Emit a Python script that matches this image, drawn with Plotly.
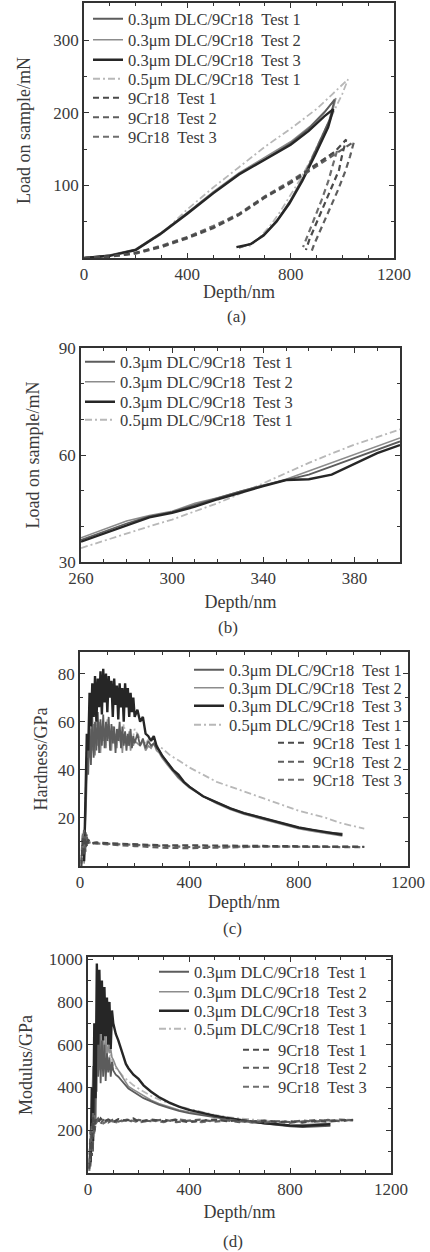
import plotly.graph_objects as go

# ---------------- DATA ----------------
# Panel (a): load-depth curves (loading + unloading)
a_dlc1_depth = [0, 50, 100, 200, 300, 400, 500, 600, 700, 800, 870, 930, 970, 950, 900, 850, 800, 750, 700, 650, 600]
a_dlc1_load = [0, 1.5, 4, 12, 35, 62, 90, 116, 136, 158, 178, 200, 218, 190, 150, 112, 80, 53, 33, 20, 14]
a_dlc2_depth = [0, 50, 100, 200, 300, 400, 500, 600, 700, 800, 875, 935, 975, 955, 905, 855, 805, 755, 705, 655, 610]
a_dlc2_load = [0, 1.2, 3.5, 11, 34, 63, 91, 117, 138, 160, 181, 203, 220, 192, 152, 114, 82, 55, 35, 21, 15]
a_dlc3_depth = [0, 50, 100, 200, 300, 400, 500, 600, 700, 800, 870, 930, 965, 945, 895, 845, 795, 745, 695, 645, 590]
a_dlc3_load = [0, 1, 3, 11, 34, 61, 89, 115, 135, 156, 175, 195, 205, 180, 142, 106, 75, 50, 31, 19, 15]
a_dlc05_depth = [0, 100, 200, 300, 400, 500, 600, 700, 800, 900, 960, 1022, 1000, 960, 920, 880, 840, 800, 760, 720, 680, 640]
a_dlc05_load = [0, 3, 11, 33, 67, 97, 125, 153, 178, 205, 225, 246, 226, 196, 166, 137, 110, 86, 64, 44, 28, 16]
a_cr1_depth = [0, 100, 200, 300, 400, 500, 600, 700, 800, 900, 970, 1015, 1000, 987, 968, 949, 930, 910, 890, 872, 859]
a_cr1_load = [0, 2, 7, 16, 28, 42, 60, 84, 104, 128, 146, 163, 143, 121, 105, 89, 73, 57, 40, 25, 11]
a_cr2_depth = [0, 100, 200, 300, 400, 500, 600, 700, 800, 900, 980, 1045, 1030, 1012, 985, 960, 935, 910, 890, 882]
a_cr2_load = [0, 2, 6, 15, 27, 41, 59, 83, 103, 126, 144, 160, 140, 120, 95, 75, 55, 35, 18, 10]
a_cr3_depth = [0, 100, 200, 300, 400, 500, 600, 700, 800, 900, 945, 980, 965, 945, 920, 900, 880, 860, 848]
a_cr3_load = [0, 2, 7, 17, 29, 44, 61, 85, 106, 129, 140, 148, 130, 105, 80, 62, 44, 27, 15]

# Panel (b): zoom of loading segment
b_depth = [260, 270, 280, 290, 300, 310, 320, 330, 340, 350, 360, 370, 380, 390, 400]
b_dlc1 = [36.2, 38.5, 40.8, 42.8, 44.0, 46.0, 48.0, 49.8, 51.5, 53.0, 54.5, 56.8, 59.2, 61.5, 63.8]
b_dlc2 = [36.8, 39.2, 41.5, 43.0, 44.2, 46.5, 48.0, 49.8, 51.5, 53.2, 55.5, 57.8, 60.2, 62.6, 64.8]
b_dlc3 = [35.7, 38.0, 40.2, 42.5, 43.8, 45.5, 47.6, 49.5, 51.3, 53.0, 53.2, 54.5, 57.5, 60.5, 62.8]
b_dlc05 = [33.9, 36.0, 38.1, 40.0, 41.9, 44.2, 46.5, 49.2, 52.1, 55.0, 57.8, 60.4, 62.9, 65.0, 67.2]

# Panel (c): hardness
c_dlc_depth = [15, 20, 25, 30, 35, 40, 45, 50, 55, 60, 65, 70, 75, 80, 85, 90, 95, 100, 105, 110,
               115, 120, 125, 130, 135, 140, 145, 150, 155, 160, 165, 170, 175, 180, 185, 190, 195, 200, 210, 220,
               230, 240, 250, 260, 270, 280, 290, 300, 320, 340, 360, 380, 400, 450, 500, 550, 600, 650, 700, 750,
               800, 850, 900, 960]
c_dlc1 = [3, 25, 45, 38, 58, 42, 62, 45, 60, 48, 64, 47, 61, 50, 63, 49, 60, 52, 62, 48,
          59, 51, 58, 47, 57, 52, 60, 49, 58, 50, 56, 48, 55, 50, 57, 49, 54, 51, 55, 50,
          53, 49, 52, 50, 51, 49, 48, 46, 43, 40, 37, 35, 33, 29, 26.5, 24, 22, 20.5, 19, 17.5,
          16, 15, 14, 13.5]
c_dlc2 = [1, 20, 40, 52, 45, 57, 48, 59, 46, 56, 50, 60, 47, 58, 52, 57, 49, 59, 53, 56,
          48, 58, 51, 55, 49, 57, 52, 56, 47, 55, 51, 54, 50, 56, 48, 53, 50, 52, 51, 50,
          52, 48, 50, 49, 51, 48, 47, 45, 42, 39, 36.5, 34.5, 32.5, 29, 26, 23.5, 21.5, 20, 18.5, 17,
          15.5, 14.5, 13.5, 12.5]
c_dlc3 = [2, 30, 55, 48, 72, 58, 76, 62, 79, 60, 78, 66, 81, 63, 82, 68, 80, 64, 79, 70,
          77, 62, 78, 67, 75, 61, 76, 66, 74, 60, 76, 66, 74, 62, 72, 64, 70, 62, 65, 60,
          62, 55, 54, 52, 54, 50, 48, 46, 43, 40, 38, 35, 33, 29, 26.5, 24, 22, 20.5, 19, 17.5,
          16, 15, 14, 13]
c_dlc05_depth = [15, 20, 25, 30, 40, 50, 60, 70, 80, 90, 100, 110, 120, 130, 140, 150, 160, 170, 180, 190,
                 200, 220, 240, 260, 280, 300, 330, 360, 400, 450, 500, 550, 600, 650, 700, 750, 800, 850, 900, 950,
                 1000, 1040]
c_dlc05 = [5, 35, 50, 44, 58, 47, 60, 50, 57, 52, 61, 49, 58, 53, 56, 50, 59, 52, 55, 51,
           57, 53, 51, 54, 50, 49, 46, 44, 41, 38, 35, 33, 31, 29, 27, 25, 23, 21.5, 20, 18,
           16.5, 15.5]
c_cr_depth = [5, 10, 15, 20, 25, 30, 40, 60, 100, 200, 300, 400, 500, 600, 700, 800, 900, 1000, 1040]
c_cr1 = [0, 12, 4, 14, 8, 11, 9.5, 9.8, 9.5, 9.0, 8.6, 8.6, 8.4, 8.3, 8.3, 8.2, 8.1, 8.0, 8.0]
c_cr2 = [1, 9, 15, 6, 12, 10, 9.2, 9.5, 9.0, 8.3, 7.6, 7.4, 7.7, 8.0, 8.1, 8.0, 8.0, 7.9, 7.9]
c_cr3 = [2, 14, 6, 10, 13, 9.6, 10, 9.4, 9.2, 8.8, 8.2, 7.9, 8.0, 8.2, 8.1, 8.0, 7.9, 7.8, 7.8]

# Panel (d): modulus
d_dlc_depth = [10, 15, 20, 25, 30, 35, 40, 45, 50, 55, 60, 65, 70, 75, 80, 85, 90, 95, 100, 110,
               120, 130, 140, 150, 160, 180, 200, 220, 250, 280, 320, 360, 400, 450, 500, 550, 600, 650, 700, 750,
               800, 850, 900, 960]
d_dlc1 = [30, 300, 100, 500, 250, 700, 450, 650, 420, 620, 450, 600, 430, 560, 470, 540, 450, 520, 480, 460,
          450, 435, 420, 405, 395, 380, 365, 350, 335, 320, 305, 290, 280, 270, 262, 252, 245, 238, 230, 222,
          218, 215, 218, 220]
d_dlc2 = [40, 250, 500, 200, 600, 380, 720, 480, 700, 500, 660, 520, 640, 540, 600, 560, 580, 540, 530, 500,
          480, 460, 440, 420, 405, 390, 375, 360, 340, 325, 310, 295, 285, 275, 265, 255, 248, 240, 233, 226,
          222, 225, 228, 232]
d_dlc3 = [50, 400, 150, 700, 350, 980, 600, 950, 650, 900, 620, 870, 640, 820, 600, 800, 580, 760, 700, 650,
          620, 580, 540, 510, 490, 460, 440, 410, 380, 355, 330, 310, 295, 280, 268, 258, 250, 240, 232, 228,
          222, 220, 224, 228]
d_dlc05_depth = [15, 20, 30, 40, 50, 60, 70, 80, 90, 100, 120, 140, 160, 180, 200, 250, 300, 350, 400, 450,
                 500, 550, 600, 700, 800, 900, 1000, 1040]
d_dlc05 = [100, 350, 600, 480, 650, 500, 600, 520, 560, 500, 480, 450, 430, 410, 395, 360, 335, 315, 300, 285,
           272, 262, 255, 245, 238, 240, 245, 250]
d_cr_depth = [5, 10, 15, 20, 25, 30, 40, 50, 60, 80, 100, 120, 150, 180, 200, 250, 300, 350, 400, 450,
              500, 550, 600, 650, 700, 750, 800, 850, 900, 950, 1000, 1050]
d_cr1 = [20, 150, 80, 260, 200, 250, 235, 255, 240, 250, 238, 252, 245, 255, 240, 250, 242, 248, 238, 245,
         250, 242, 248, 240, 245, 238, 242, 236, 244, 240, 246, 248]
d_cr2 = [40, 200, 120, 280, 180, 240, 255, 230, 248, 236, 250, 240, 252, 238, 248, 242, 250, 238, 245, 250,
         240, 246, 238, 244, 236, 242, 238, 245, 240, 248, 242, 250]
d_cr3 = [10, 100, 220, 160, 270, 230, 248, 240, 232, 246, 242, 236, 248, 244, 236, 246, 238, 252, 244, 238,
         246, 250, 242, 236, 244, 240, 234, 242, 248, 244, 250, 246]

NAMES = ["0.3\u03bcm DLC/9Cr18\u00a0 Test 1", "0.3\u03bcm DLC/9Cr18\u00a0 Test 2",
         "0.3\u03bcm DLC/9Cr18\u00a0 Test 3", "0.5\u03bcm DLC/9Cr18\u00a0 Test 1",
         "9Cr18\u00a0 Test 1", "9Cr18\u00a0 Test 2", "9Cr18\u00a0 Test 3"]

# ---------------- STYLE ----------------
FONT = "Liberation Serif, Times New Roman, serif"
TXT = "#3a3a3a"
STY = [
    dict(color="#5c5c5c", width=1.8),
    dict(color="#8c8c8c", width=1.6),
    dict(color="#262626", width=2.4),
    dict(color="#b8b8b8", width=1.8, dash="7px,3px,2px,3px"),
    dict(color="#4a4a4a", width=2.2, dash="6px,4px"),
    dict(color="#5e5e5e", width=2.2, dash="6px,4px"),
    dict(color="#6e6e6e", width=2.2, dash="6px,4px"),
]
W, H = 430, 1252
LEG_SIZE = 16.5


def px_x(p):
    return p / W


def px_y(p):
    return 1 - p / H


fig = go.Figure()
legend_layouts = {}
leg_counter = [0]


def add(panel, x, y, idx, leg_x, leg_y, anchor="left"):
    leg_counter[0] += 1
    n = leg_counter[0]
    key = "legend" if n == 1 else f"legend{n}"
    ax = "" if panel == 1 else str(panel)
    fig.add_trace(go.Scatter(x=x, y=y, mode="lines", name=NAMES[idx], line=STY[idx],
                             xaxis="x" + ax, yaxis="y" + ax, legend=key))
    legend_layouts[key] = dict(x=px_x(leg_x), y=px_y(leg_y), xanchor=anchor, yanchor="middle",
                               bgcolor="rgba(0,0,0,0)", borderwidth=0,
                               font=dict(family=FONT, size=LEG_SIZE, color=TXT),
                               itemwidth=30, tracegroupgap=0)


# draw order: light traces first so darker ones sit on top
# Panel (a)
la = [19, 40, 60, 79, 98, 117.5, 137]
lx_a = 88
add(1, a_dlc05_depth, a_dlc05_load, 3, lx_a, la[3])
add(1, a_dlc2_depth, a_dlc2_load, 1, lx_a, la[1])
add(1, a_dlc1_depth, a_dlc1_load, 0, lx_a, la[0])
add(1, a_dlc3_depth, a_dlc3_load, 2, lx_a, la[2])
add(1, a_cr3_depth, a_cr3_load, 6, lx_a, la[6])
add(1, a_cr2_depth, a_cr2_load, 5, lx_a, la[5])
add(1, a_cr1_depth, a_cr1_load, 4, lx_a, la[4])

# Panel (b)
lb = [362, 382, 402, 420]
lx_b = 80
add(2, b_depth, b_dlc05, 3, lx_b, lb[3])
add(2, b_depth, b_dlc2, 1, lx_b, lb[1])
add(2, b_depth, b_dlc1, 0, lx_b, lb[0])
add(2, b_depth, b_dlc3, 2, lx_b, lb[2])

# Panel (c)
lc = [670, 688, 706, 725, 743, 762, 780]
rx_c = 407
add(3, c_dlc05_depth, c_dlc05, 3, rx_c, lc[3], "right")
add(3, c_dlc_depth, c_dlc2, 1, rx_c, lc[1], "right")
add(3, c_dlc_depth, c_dlc1, 0, rx_c, lc[0], "right")
add(3, c_dlc_depth, c_dlc3, 2, rx_c, lc[2], "right")
add(3, c_cr_depth, c_cr3, 6, rx_c, lc[6], "right")
add(3, c_cr_depth, c_cr2, 5, rx_c, lc[5], "right")
add(3, c_cr_depth, c_cr1, 4, rx_c, lc[4], "right")

# Panel (d)
ld = [972, 992, 1011, 1029, 1050, 1068, 1087]
rx_d = 372
add(4, d_dlc05_depth, d_dlc05, 3, rx_d, ld[3], "right")
add(4, d_dlc_depth, d_dlc2, 1, rx_d, ld[1], "right")
add(4, d_dlc_depth, d_dlc1, 0, rx_d, ld[0], "right")
add(4, d_dlc_depth, d_dlc3, 2, rx_d, ld[2], "right")
add(4, d_cr_depth, d_cr3, 6, rx_d, ld[6], "right")
add(4, d_cr_depth, d_cr2, 5, rx_d, ld[5], "right")
add(4, d_cr_depth, d_cr1, 4, rx_d, ld[4], "right")


def axis_pair(n, xdom, ydom, xr, yr, xtv, ytv, xminor, yminor, ytitle, ystand, xstand):
    s = "" if n == 1 else str(n)
    common = dict(showline=True, linecolor="#333", linewidth=1.6, mirror="allticks",
                  ticks="inside", ticklen=5, tickwidth=1.4, tickcolor="#333",
                  showgrid=False, zeroline=False, automargin=False,
                  tickfont=dict(family=FONT, size=17, color=TXT))
    fig.layout["xaxis" + s] = dict(common, domain=[px_x(xdom[0]), px_x(xdom[1])], range=xr,
                                   tickvals=xtv, anchor="y" + s,
                                   minor=dict(dtick=xminor, ticks="inside", ticklen=3, tickcolor="#333", showgrid=False),
                                   title=dict(text="Depth/nm", font=dict(family=FONT, size=18, color=TXT), standoff=xstand))
    fig.layout["yaxis" + s] = dict(common, domain=[px_y(ydom[1]), px_y(ydom[0])], range=yr,
                                   tickvals=ytv, anchor="x" + s,
                                   minor=dict(dtick=yminor, ticks="inside", ticklen=3, tickcolor="#333", showgrid=False),
                                   title=dict(text=ytitle, font=dict(family=FONT, size=18, color=TXT), standoff=ystand))


axis_pair(1, (84, 394), (3, 258), [0, 1200], [0, 351], [0, 400, 800, 1200], [100, 200, 300], 100, 50,
          "Load on sample/mN", 18, 2)
axis_pair(2, (81, 400), (348, 562), [260, 400], [30, 90], [260, 300, 340, 380], [30, 60, 90], 10, 10,
          "Load on sample/mN", 14, 8)
axis_pair(3, (80, 408), (652, 866), [0, 1200], [0, 89], [0, 400, 800, 1200], [20, 40, 60, 80], 100, 10,
          "Hardness/GPa", 5, 4)
axis_pair(4, (88, 391), (957, 1173), [0, 1200], [0, 1010], [0, 400, 800, 1200], [200, 400, 600, 800, 1000], 100, 100,
          "Modulus/GPa", 11, 7)

for cap, xx, yy in [("(a)", 236, 316), ("(b)", 228, 627), ("(c)", 232, 928), ("(d)", 233, 1241)]:
    fig.add_annotation(text=cap, x=px_x(xx), y=px_y(yy), xref="paper", yref="paper",
                       showarrow=False, font=dict(family=FONT, size=17, color=TXT), xanchor="center", yanchor="middle")

fig.update_layout(width=W, height=H, margin=dict(l=0, r=0, t=0, b=0, autoexpand=False),
                  paper_bgcolor="white", plot_bgcolor="white", showlegend=True,
                  **legend_layouts)
fig.write_html("out.html", config={"displayModeBar": False},
               post_script="document.body.style.margin='0';")
